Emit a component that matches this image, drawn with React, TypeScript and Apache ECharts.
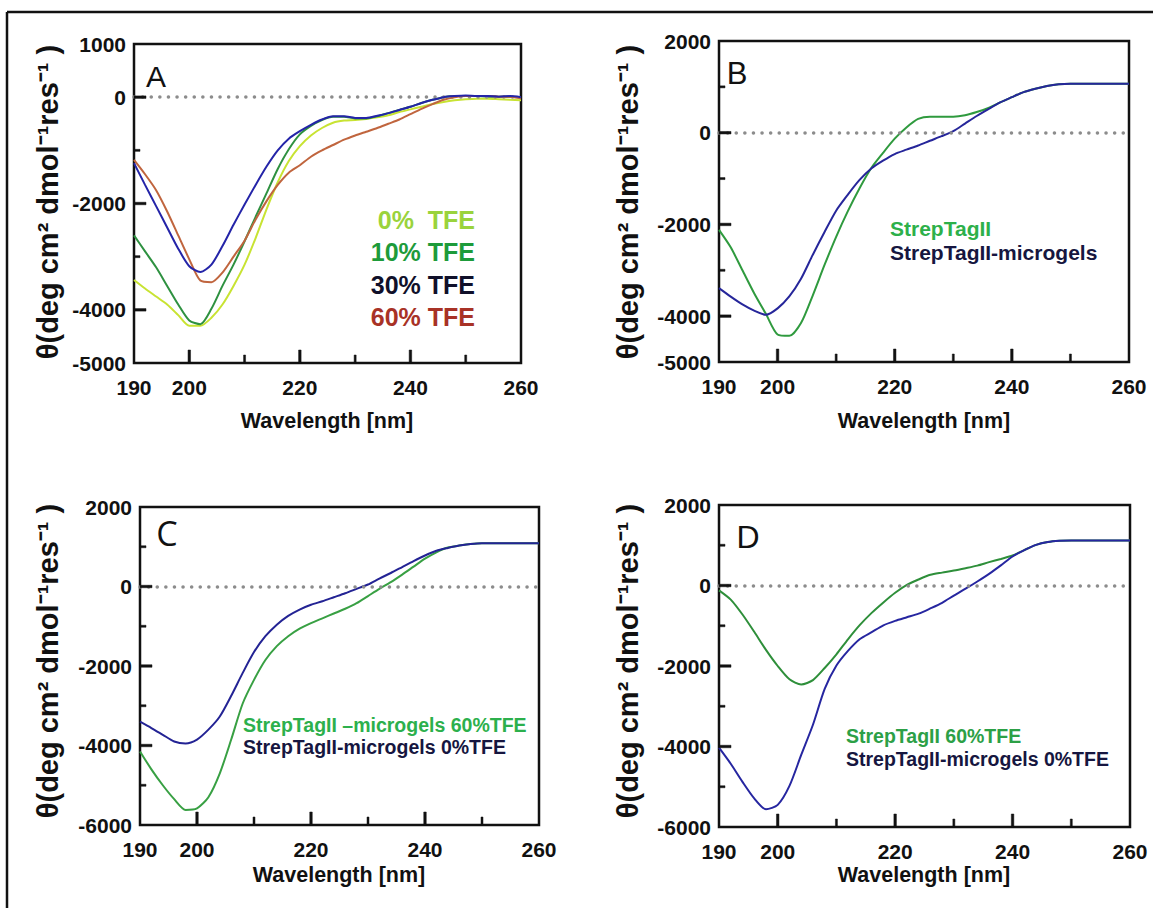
import React, { useEffect, useRef } from "react";
import * as echarts from "echarts";

const wavelengths = [190,192,194,196,198,200,202,204,206,208,210,212,214,216,218,220,222,224,226,228,230,232,234,236,238,240,242,244,246,248,250,252,254,256,258,260];

// Panel A
const aTfe0 = [-3440,-3600,-3750,-3900,-4100,-4300,-4300,-4150,-3900,-3550,-3150,-2650,-2100,-1600,-1200,-920,-720,-580,-480,-440,-430,-410,-380,-340,-280,-230,-180,-130,-90,-60,-40,-30,-30,-40,-50,-60];
const aTfe10 = [-2600,-2900,-3200,-3550,-3900,-4200,-4270,-3980,-3550,-3150,-2710,-2250,-1800,-1350,-980,-700,-540,-430,-370,-370,-400,-400,-360,-300,-240,-180,-110,-50,0,20,20,20,10,10,10,0];
const aTfe30 = [-1240,-1650,-2050,-2450,-2850,-3180,-3290,-3150,-2800,-2400,-2020,-1650,-1300,-1000,-780,-640,-520,-420,-360,-360,-390,-390,-350,-300,-240,-180,-110,-50,0,20,30,20,20,10,20,0];
const aTfe60 = [-1180,-1450,-1750,-2150,-2600,-3050,-3450,-3480,-3300,-3000,-2700,-2300,-1950,-1650,-1420,-1280,-1120,-1000,-900,-800,-720,-650,-580,-500,-420,-320,-220,-130,-50,0,20,20,20,10,10,-20];

// Panel B
const bStrep = [-2120,-2500,-3000,-3500,-3950,-4400,-4430,-4150,-3550,-2890,-2270,-1710,-1210,-770,-440,-130,114,300,350,350,350,380,450,540,660,775,885,960,1020,1058,1070,1070,1070,1070,1070,1070];
const bMicro = [-3390,-3575,-3745,-3880,-3970,-3830,-3570,-3185,-2665,-2170,-1700,-1350,-1030,-780,-610,-465,-370,-280,-176,-76,35,200,365,515,660,775,885,960,1020,1058,1070,1070,1070,1070,1070,1070];

// Panel C
const cMicro60 = [-4150,-4600,-5000,-5350,-5620,-5580,-5300,-4700,-3850,-2950,-2350,-1850,-1500,-1250,-1060,-920,-800,-680,-560,-420,-240,-60,110,300,500,700,860,980,1030,1070,1090,1090,1090,1090,1090,1090];
const cMicro0 = [-3400,-3560,-3730,-3900,-3950,-3850,-3600,-3270,-2750,-2180,-1650,-1250,-960,-740,-580,-460,-370,-270,-170,-60,50,200,340,490,640,780,900,970,1030,1070,1090,1090,1090,1090,1090,1090];

// Panel D
const dStrep60 = [-120,-350,-720,-1150,-1600,-2000,-2330,-2460,-2350,-2050,-1710,-1330,-980,-680,-420,-180,16,150,265,320,370,430,494,580,660,745,880,1010,1080,1110,1120,1120,1120,1120,1120,1120];
const dMicro0 = [-4030,-4430,-4880,-5290,-5560,-5450,-4980,-4210,-3460,-2570,-1990,-1620,-1330,-1160,-990,-880,-790,-700,-570,-430,-250,-80,100,290,500,720,880,1010,1080,1110,1120,1120,1120,1120,1120,1120];

const xLabelValues = [190, 200, 220, 240, 260];
const xShortTicks = [210, 230, 250];
const xLongTicks = [200, 220, 240];
const yLabelsA = [1000, 0, -2000, -4000, -5000];
const yLabelsB = [2000, 0, -2000, -4000, -5000];
const yLabelsCD = [2000, 0, -2000, -4000, -6000];
const yShortTicksA = [-1000, -3000];
const yShortTicksB = [1000, -1000, -3000];
const yShortTicksCD = [1000, -1000, -3000, -5000];
const yLongTicks = [0, -2000, -4000];

const FONT = '"Liberation Sans", Arial, sans-serif';
const INK = "#111111";

type Curve = { name: string; values: number[]; color: string };
type Panel = {
  grid: { left: number; top: number; width: number; height: number };
  yMin: number;
  yMax: number;
  yLabels: number[];
  yShort: number[];
  curves: Curve[];
};

const panels: Panel[] = [
  {
    grid: { left: 134, top: 44, width: 387, height: 319 },
    yMin: -5000, yMax: 1000, yLabels: yLabelsA, yShort: yShortTicksA,
    curves: [
      { name: "0% TFE", values: aTfe0, color: "#c8e332" },
      { name: "10% TFE", values: aTfe10, color: "#2e9140" },
      { name: "60% TFE", values: aTfe60, color: "#c0653e" },
      { name: "30% TFE", values: aTfe30, color: "#2424a8" },
    ],
  },
  {
    grid: { left: 719, top: 41, width: 410, height: 321 },
    yMin: -5000, yMax: 2000, yLabels: yLabelsB, yShort: yShortTicksB,
    curves: [
      { name: "StrepTagII", values: bStrep, color: "#2f9a3e" },
      { name: "StrepTagII-microgels", values: bMicro, color: "#26269a" },
    ],
  },
  {
    grid: { left: 140, top: 507, width: 399, height: 318 },
    yMin: -6000, yMax: 2000, yLabels: yLabelsCD, yShort: yShortTicksCD,
    curves: [
      { name: "StrepTagII -microgels 60%TFE", values: cMicro60, color: "#38a043" },
      { name: "StrepTagII-microgels 0%TFE", values: cMicro0, color: "#232394" },
    ],
  },
  {
    grid: { left: 719, top: 505, width: 411, height: 322 },
    yMin: -6000, yMax: 2000, yLabels: yLabelsCD, yShort: yShortTicksCD,
    curves: [
      { name: "StrepTagII 60%TFE", values: dStrep60, color: "#2e8f3a" },
      { name: "StrepTagII-microgels 0%TFE", values: dMicro0, color: "#2626a0" },
    ],
  },
];

const fmt = (v: number) => String(v);

// custom series that draws inward tick marks, placed through the axes' own scales
function tickSeries(i: number, dir: "x" | "y", values: number[], len: number, width: number) {
  return {
    type: "custom",
    xAxisIndex: i,
    yAxisIndex: i,
    silent: true,
    z: 30,
    clip: false,
    data: values.map((v) => [v, v]),
    renderItem: (params: any, api: any) => {
      const cs = params.coordSys;
      const v = api.value(0);
      if (dir === "x") {
        const px = api.coord([v, 0])[0];
        const bottom = cs.y + cs.height;
        return {
          type: "polygon",
          shape: { points: [[px - width / 2, bottom], [px + width / 2, bottom], [px + width / 2, bottom - len], [px - width / 2, bottom - len]] },
          style: { fill: INK, stroke: INK, lineWidth: 0.5 },
        };
      }
      const py = api.coord([200, v])[1];
      const left = cs.x;
      return {
        type: "polygon",
        shape: { points: [[left, py - width / 2], [left + len, py - width / 2], [left + len, py + width / 2], [left, py + width / 2]] },
        style: { fill: INK, stroke: INK, lineWidth: 0.5 },
      };
    },
  };
}

function buildOption() {
  const grid: any[] = [];
  const xAxis: any[] = [];
  const yAxis: any[] = [];
  const series: any[] = [];
  panels.forEach((p, i) => {
    grid.push({ ...p.grid, show: true, borderColor: INK, borderWidth: 2.5, backgroundColor: "rgba(0,0,0,0)", containLabel: false });
    xAxis.push({
      gridIndex: i, type: "value", min: 190, max: 260, interval: 10, position: "bottom",
      axisLine: { show: false, onZero: false },
      axisTick: { show: false },
      axisLabel: { customValues: xLabelValues, formatter: fmt, fontSize: 21, fontWeight: "bold", color: INK, fontFamily: FONT, margin: 14 },
      splitLine: { show: false },
    });
    yAxis.push({
      gridIndex: i, type: "value", min: p.yMin, max: p.yMax, interval: 1000, position: "left",
      axisLine: { show: false, onZero: false },
      axisTick: { show: false },
      axisLabel: { customValues: p.yLabels, formatter: fmt, fontSize: 21, fontWeight: "bold", color: INK, fontFamily: FONT, margin: 8 },
      splitLine: { show: false },
    });
    p.curves.forEach((c, k) => {
      const s: any = {
        type: "line", name: c.name, xAxisIndex: i, yAxisIndex: i,
        data: wavelengths.map((w, j) => [w, c.values[j]]),
        showSymbol: false, smooth: 0.25,
        lineStyle: { color: c.color, width: 2 },
        itemStyle: { color: c.color },
        z: 3 + k,
      };
      if (k === 0) {
        s.markLine = {
          silent: true, symbol: ["none", "none"], label: { show: false },
          lineStyle: { color: "#8c8c8c", type: [0.1, 8.5], width: 3.5, cap: "round" },
          data: [{ yAxis: 0 }],
        };
      }
      series.push(s);
    });
    series.push(tickSeries(i, "x", xShortTicks, 8, 2));
    series.push(tickSeries(i, "x", xLongTicks, 13, 2.5));
    series.push(tickSeries(i, "y", p.yShort, 6, 2));
    series.push(tickSeries(i, "y", yLongTicks, 12, 2.5));
  });

  const yTitle = "θ(deg cm² dmol⁻¹res⁻¹ )";
  const text = (x: number, y: number, t: string, font: string, fill: string, align = "center", rotation = 0) => ({
    type: "text", x, y, rotation,
    style: { text: t, font, fill, textAlign: align, textVerticalAlign: "middle" },
    z: 10,
  });
  const boldF = (s: number) => `bold ${s}px ${FONT}`;
  const graphic: any[] = [
    { type: "line", shape: { x1: 7, y1: 12, x2: 1153, y2: 12 }, style: { stroke: INK, lineWidth: 2.5 } },
    { type: "line", shape: { x1: 7, y1: 12, x2: 7, y2: 908 }, style: { stroke: INK, lineWidth: 2.5 } },
    text(48, 202, yTitle, boldF(29), INK, "center", Math.PI / 2),
    text(628, 202, yTitle, boldF(29), INK, "center", Math.PI / 2),
    text(48, 661, yTitle, boldF(29), INK, "center", Math.PI / 2),
    text(628, 661, yTitle, boldF(29), INK, "center", Math.PI / 2),
    text(327, 421, "Wavelength [nm]", boldF(21.5), INK),
    text(924, 421, "Wavelength [nm]", boldF(21.5), INK),
    text(339, 875, "Wavelength [nm]", boldF(21.5), INK),
    text(924, 875, "Wavelength [nm]", boldF(21.5), INK),
    text(156, 76, "A", `30px ${FONT}`, INK),
    text(737, 73, "B", `31px ${FONT}`, INK),
    text(167, 533, "C", `34px "Open Sans", ${FONT}`, INK),
    text(748, 537, "D", `32px ${FONT}`, INK),
    text(475, 220, "0%  TFE", boldF(25), "#9ad33c", "right"),
    text(475, 252, "10% TFE", boldF(25), "#1d9b3a", "right"),
    text(475, 285, "30% TFE", boldF(25), "#10102a", "right"),
    text(475, 317, "60% TFE", boldF(25), "#a83226", "right"),
    text(890, 228, "StrepTagII", boldF(21), "#2db04a", "left"),
    text(890, 252, "StrepTagII-microgels", boldF(21), "#161640", "left"),
    text(243, 725, "StrepTagII –microgels 60%TFE", boldF(19.5), "#2cb04c", "left"),
    text(243, 747, "StrepTagII-microgels 0%TFE", boldF(19.5), "#161640", "left"),
    text(846, 736, "StrepTagII 60%TFE", boldF(19.5), "#2ca046", "left"),
    text(846, 759, "StrepTagII-microgels 0%TFE", boldF(19.5), "#161640", "left"),
  ];

  return { animation: false, backgroundColor: "#ffffff", grid, xAxis, yAxis, series, graphic };
}

export default function App() {
  const ref = useRef<HTMLDivElement>(null);
  useEffect(() => {
    document.body.style.margin = "0";
    const chart = echarts.init(ref.current!, null, { renderer: "svg" });
    chart.setOption(buildOption() as any);
    return () => chart.dispose();
  }, []);
  return <div ref={ref} style={{ width: 1153, height: 908, background: "#fff" }} />;
}
